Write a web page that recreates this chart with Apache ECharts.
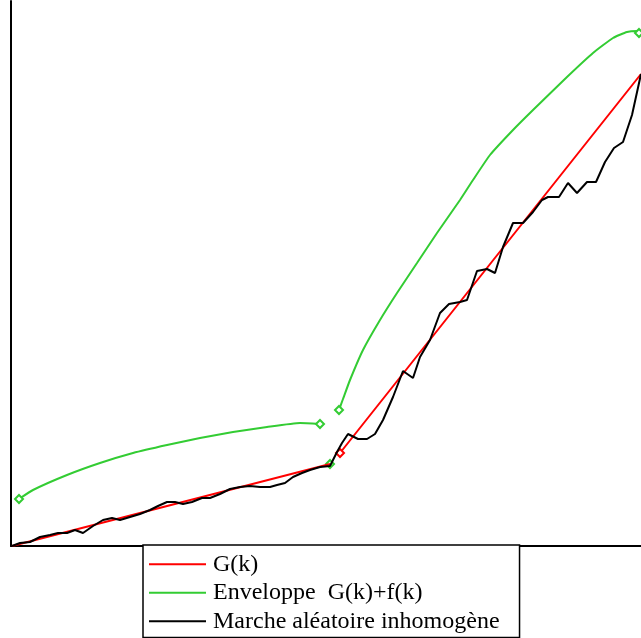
<!DOCTYPE html>
<html>
<head>
<meta charset="utf-8">
<script src="https://cdn.jsdelivr.net/npm/echarts@6/dist/echarts.min.js"></script>
<style>
html,body{margin:0;padding:0;background:#fff;}
#chart{width:641px;height:638px;}
</style>
</head>
<body>
<div id="chart"></div>
<script>
// Names shown in the legend
var seriesNames = ['G(k)', 'Enveloppe  G(k)+f(k)', 'Marche aléatoire inhomogène'];

// G(k): two linear regimes (x, y in chart units)
var gSeg1 = [[1, 0], [319, 82]];
var gSeg2 = [[329, 93], [630, 472]];

// Envelope G(k)+f(k)
var envSeg1 = [[8, 47], [22, 56], [56, 71], [89, 83], [122, 93], [156, 101], [189, 108], [222, 114], [256, 119], [289, 123], [309, 122]];
var envJoint = [319, 82];
var envSeg2 = [[328, 136], [332, 147], [339, 166], [352, 196], [369, 226], [386, 253], [406, 283], [426, 313], [449, 346], [462, 366], [479, 391], [502, 416], [522, 436], [556, 469], [582, 493], [602, 508], [616, 514], [626, 515], [628, 513]];

// Inhomogeneous random walk
var walk = [[1, 0], [9, 3], [19, 4], [29, 9], [39, 11], [47, 13], [56, 13], [64, 16], [72, 13], [82, 20], [92, 26], [101, 28], [109, 26], [119, 29], [129, 32], [139, 36], [147, 40], [156, 44], [164, 44], [172, 42], [181, 44], [191, 48], [199, 48], [209, 52], [219, 57], [229, 59], [239, 60], [249, 59], [259, 59], [266, 61], [274, 63], [282, 69], [291, 73], [299, 76], [309, 79], [319, 80], [326, 94], [331, 103], [337, 112], [347, 107], [356, 107], [364, 112], [372, 126], [382, 149], [392, 175], [402, 168], [409, 189], [419, 206], [429, 233], [438, 242], [449, 244], [456, 246], [466, 275], [476, 277], [484, 273], [492, 299], [502, 323], [512, 323], [522, 334], [531, 346], [537, 349], [548, 349], [557, 363], [566, 353], [576, 364], [585, 364], [594, 384], [603, 398], [612, 404], [621, 431], [630, 472]];

var xMax = 630, yMax = 545;
var RED = '#ff0000', GREEN = '#33cc33', BLACK = '#000000';

function marked(p) { return { value: p, symbol: 'emptyDiamond', symbolSize: 8 }; }

var redData = [gSeg1[0], gSeg1[1], '-', marked(gSeg2[0]), gSeg2[1]];
var greenData = [marked(envSeg1[0])]
  .concat(envSeg1.slice(1, -1))
  .concat([marked(envSeg1[envSeg1.length - 1]), '-', marked(envJoint), '-', marked(envSeg2[0])])
  .concat(envSeg2.slice(1, -1))
  .concat([marked(envSeg2[envSeg2.length - 1])]);

var chart = echarts.init(document.getElementById('chart'), null, { renderer: 'canvas' });
chart.setOption({
  animation: false,
  backgroundColor: '#ffffff',
  grid: { left: 11, right: 0, top: 1, bottom: 92, containLabel: false },
  xAxis: {
    type: 'value', min: 0, max: xMax,
    axisLine: { show: true, onZero: false, lineStyle: { color: '#000', width: 2 } },
    axisTick: { show: false }, axisLabel: { show: false }, splitLine: { show: false }
  },
  yAxis: {
    type: 'value', min: 0, max: yMax,
    axisLine: { show: true, onZero: false, lineStyle: { color: '#000', width: 2 } },
    axisTick: { show: false }, axisLabel: { show: false }, splitLine: { show: false }
  },
  legend: {
    orient: 'vertical',
    left: 143, top: 545,
    padding: [5, 20, 2, 6],
    itemGap: 0,
    itemWidth: 57, itemHeight: 2,
    icon: 'rect',
    borderColor: '#000', borderWidth: 1.5, borderRadius: 0,
    backgroundColor: '#fff',
    textStyle: { fontFamily: 'Liberation Serif', fontSize: 24, color: '#000', lineHeight: 28.5, padding: [0, 0, 0, 2] },
    data: seriesNames
  },
  series: [
    {
      name: seriesNames[0], type: 'line', data: redData,
      symbol: 'none', showSymbol: true, connectNulls: false,
      lineStyle: { color: RED, width: 2 }, itemStyle: { color: RED, borderWidth: 1.5 }, z: 3
    },
    {
      name: seriesNames[1], type: 'line', data: greenData, smooth: 0.15,
      symbol: 'none', showSymbol: true, connectNulls: false,
      lineStyle: { color: GREEN, width: 2 }, itemStyle: { color: GREEN, borderWidth: 1.5 }, z: 2
    },
    {
      name: seriesNames[2], type: 'line', data: walk,
      symbol: 'none', showSymbol: false,
      lineStyle: { color: BLACK, width: 2 }, itemStyle: { color: BLACK }, z: 4
    }
  ]
});
</script>
</body>
</html>
